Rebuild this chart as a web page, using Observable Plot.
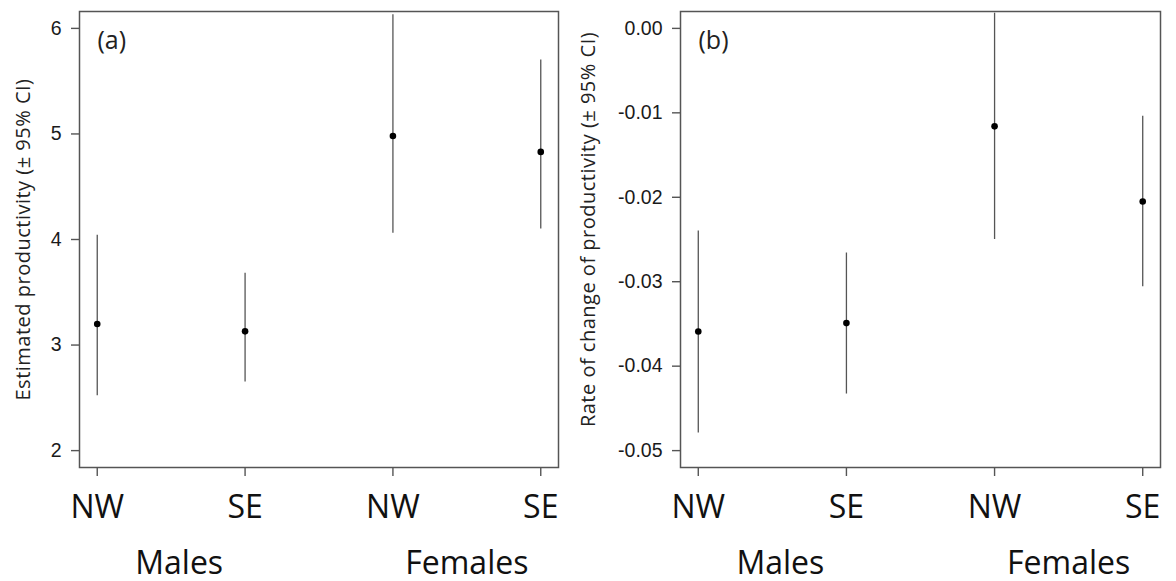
<!DOCTYPE html>
<html>
<head>
<meta charset="utf-8">
<script src="https://cdn.jsdelivr.net/npm/d3@7"></script>
<script src="https://cdn.jsdelivr.net/npm/@observablehq/plot@0.6"></script>
<style>
  html, body { margin: 0; padding: 0; background: #fff; }
  #wrap { display: flex; width: 1176px; height: 581px; }
  svg { display: block; }
  g[aria-label="y-axis tick"], g[aria-label="x-axis tick"] { stroke: #555; stroke-width: 1.4px; }
  g[aria-label="y-axis tick label"] { font-family: "Liberation Sans", Arial, sans-serif; font-size: 19.5px; fill: #1a1a1a; }
  g[aria-label="x-axis tick label"] { font-family: "Open Sans", sans-serif; font-size: 32px; fill: #111; }
  .ytitle text { letter-spacing: 0.5px; }
</style>
</head>
<body>
<div id="wrap"></div>
<script>
// ---- data ----
const sexes = ["Males", "Males", "Females", "Females"];
const regions = ["NW", "SE", "NW", "SE"];
const prodEst = [3.20, 3.13, 4.98, 4.83];
const prodLo  = [2.52, 2.65, 4.06, 4.10];
const prodHi  = [4.04, 3.68, 6.13, 5.70];
const rateEst = [-0.0359, -0.0349, -0.0116, -0.0205];
const rateLo  = [-0.0479, -0.0433, -0.0250, -0.0306];
const rateHi  = [-0.0240, -0.0266, 0.0018, -0.0104];
const prodTicks = [2, 3, 4, 5, 6];
const rateTicks = [0, -0.01, -0.02, -0.03, -0.04, -0.05];
const prodTitle = "Estimated productivity (± 95% CI)";
const rateTitle = "Rate of change of productivity (± 95% CI)";

const positions = regions.map((_, i) => i + 1);
const groupNames = ["Males", "Females"];
const groupMid = groupNames.map(g => ({
  name: g,
  x: d3.mean(positions.filter((p, i) => sexes[i] === g))
}));

function panel({est, lo, hi, yDomain, yTicks, yFormat, title, tag, width, marginLeft, marginRight, titleDx, titleDy}) {
  const rows = positions.map((p, i) => ({pos: p, est: est[i], lo: lo[i], hi: hi[i]}));
  return Plot.plot({
    width, height: 581,
    marginLeft, marginRight, marginTop: 11, marginBottom: 114,
    style: {background: "#fff", color: "#222", overflow: "visible"},
    x: {domain: [0.88, 4.12]},
    y: {domain: yDomain},
    marks: [
      Plot.frame({stroke: "#555", strokeWidth: 1.5}),
      Plot.ruleX(rows, {x: "pos", y1: "lo", y2: "hi", stroke: "#555", strokeWidth: 1.3}),
      Plot.dot(rows, {x: "pos", y: "est", r: 3.3, fill: "#000", stroke: "none"}),
      Plot.axisY({ticks: yTicks, tickFormat: yFormat, tickSize: 8, tickPadding: 10, label: null}),
      Plot.axisX({ticks: positions, tickFormat: d => regions[d - 1], tickSize: 9, tickPadding: 19, label: null}),
      Plot.text(groupMid, {x: "x", text: "name", frameAnchor: "bottom", textAnchor: "middle", lineAnchor: "bottom",
        dy: 106, fontSize: 32, fontFamily: "Open Sans", fill: "#111"}),
      Plot.text([title], {text: d => d, frameAnchor: "left", textAnchor: "middle", lineAnchor: "middle",
        rotate: -90, dx: titleDx, dy: titleDy, className: "ytitle",
        fontSize: 20, fontFamily: "Open Sans", fill: "#222"}),
      Plot.text([tag], {text: d => d, frameAnchor: "top-left", textAnchor: "start", lineAnchor: "middle",
        dx: 18, dy: 29, fontSize: 25, fontFamily: "Open Sans", fill: "#222"})
    ]
  });
}

const wrap = document.getElementById("wrap");
wrap.appendChild(panel({
  est: prodEst, lo: prodLo, hi: prodHi, yDomain: [1.84, 6.16], yTicks: prodTicks,
  yFormat: d => String(d), title: prodTitle, tag: "(a)", width: 580, marginLeft: 79, marginRight: 22,
  titleDx: -56, titleDy: 0
}));
wrap.appendChild(panel({
  est: rateEst, lo: rateLo, hi: rateHi, yDomain: [-0.052, 0.002], yTicks: rateTicks,
  yFormat: d => d.toFixed(2), title: rateTitle, tag: "(b)", width: 596, marginLeft: 100, marginRight: 16,
  titleDx: -92, titleDy: -10
}));

// shift the "Males" labels slightly right as in the reference
document.querySelectorAll("svg").forEach(svg => {
  svg.querySelectorAll("text").forEach(t => {
    if (t.textContent === "Males") t.setAttribute("dx", "8");
  });
});
</script>
</body>
</html>
